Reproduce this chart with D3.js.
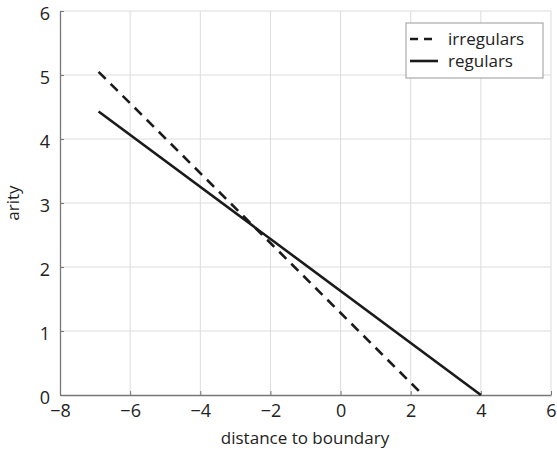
<!DOCTYPE html>
<html>
<head>
<meta charset="utf-8">
<script src="https://cdn.jsdelivr.net/npm/d3@7"></script>
<style>
  body { margin: 0; background: #fff; }
  text { font-family: "Open Sans", "Noto Sans", sans-serif; fill: #222; }
</style>
</head>
<body>
<div id="chart"></div>
<script>
// line endpoints
var seriesNames = ["irregulars", "regulars"];
var irregularX = [-6.9, 2.35];
var irregularY = [5.05, 0];
var regularX = [-6.9, 4];
var regularY = [4.43, 0];
var xTicks = [-8, -6, -4, -2, 0, 2, 4, 6];
var yTicks = [0, 1, 2, 3, 4, 5, 6];

var width = 557, height = 453;
var svg = d3.select("#chart").append("svg")
    .attr("width", width).attr("height", height);

var x = d3.scaleLinear().domain([-8, 6]).range([60, 551]);
var y = d3.scaleLinear().domain([0, 6]).range([395, 11]);

// grid
svg.append("g").selectAll("line").data(xTicks.slice(1)).enter().append("line")
    .attr("x1", d => x(d)).attr("x2", d => x(d))
    .attr("y1", y(0)).attr("y2", y(6))
    .attr("stroke", "#dcdcdc").attr("stroke-width", 1);
svg.append("g").selectAll("line").data(yTicks.slice(1)).enter().append("line")
    .attr("x1", x(-8)).attr("x2", x(6))
    .attr("y1", d => y(d)).attr("y2", d => y(d))
    .attr("stroke", "#dcdcdc").attr("stroke-width", 1);

// axes
var xAxis = svg.append("g").attr("transform", "translate(0," + y(0) + ")")
    .call(d3.axisBottom(x).tickValues(xTicks).tickSizeInner(-4).tickSizeOuter(0)
        .tickFormat(d => d < 0 ? "\u2212" + Math.abs(d) : d));
var yAxis = svg.append("g").attr("transform", "translate(" + x(-8) + ",0)")
    .call(d3.axisLeft(y).tickValues(yTicks).tickSizeInner(-4).tickSizeOuter(0)
        .tickFormat(d3.format("d")));
[xAxis, yAxis].forEach(function (a) {
  a.select(".domain").attr("stroke", "#777").attr("stroke-width", 1.3);
  a.selectAll(".tick line").attr("stroke", "#777");
  a.selectAll(".tick text").style("font-size", "18px").attr("fill", "#222");
});
xAxis.selectAll(".tick text").attr("dy", "1em").attr("y", 4);
yAxis.selectAll(".tick text").attr("x", -10).attr("dy", "0.45em");

// series
var line = d3.line().x(d => x(d[0])).y(d => y(d[1]));
svg.append("path")
    .datum(d3.zip(irregularX, irregularY))
    .attr("d", line).attr("fill", "none")
    .attr("stroke", "#1a1a1a").attr("stroke-width", 2.6)
    .attr("stroke-dasharray", "10,7");
svg.append("path")
    .datum(d3.zip(regularX, regularY))
    .attr("d", line).attr("fill", "none")
    .attr("stroke", "#1a1a1a").attr("stroke-width", 2.6);

// axis titles
svg.append("text")
    .attr("x", 305).attr("y", 444)
    .attr("text-anchor", "middle").style("font-size", "17px")
    .text("distance to boundary");
svg.append("text")
    .attr("transform", "translate(19," + y(3) + ") rotate(-90)")
    .attr("text-anchor", "middle").style("font-size", "17px")
    .text("arity");

// legend
var legend = svg.append("g");
legend.append("rect")
    .attr("x", 406).attr("y", 23).attr("width", 137).attr("height", 55)
    .attr("fill", "#fff").attr("stroke", "#999").attr("stroke-width", 1);
seriesNames.forEach(function (name, i) {
  var ly = 39 + i * 22;
  legend.append("line")
      .attr("x1", 410).attr("x2", 438).attr("y1", ly).attr("y2", ly)
      .attr("stroke", "#1a1a1a").attr("stroke-width", 2.6)
      .attr("stroke-dasharray", i === 0 ? "8,6" : null);
  legend.append("text")
      .attr("x", 448).attr("y", ly + 6)
      .style("font-size", "17px")
      .text(name);
});
</script>
</body>
</html>
